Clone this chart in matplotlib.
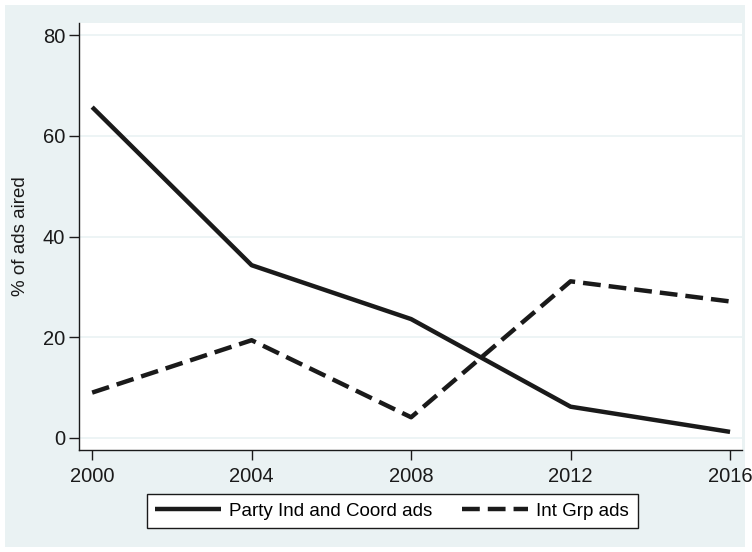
import matplotlib
matplotlib.use("Agg")
import matplotlib.pyplot as plt
from matplotlib.patches import Rectangle

# data
years = [2000, 2004, 2008, 2012, 2016]
party = [65.7, 34.3, 23.6, 6.2, 1.2]
intgrp = [9.0, 19.4, 4.1, 31.1, 27.1]
yticks = [0, 20, 40, 60, 80]

bg = "#eaf2f3"
plt.rcParams["font.family"] = ["Liberation Sans", "DejaVu Sans"]

fig = plt.figure(figsize=(7.52, 5.52), dpi=100)
fig.patch.set_facecolor("white")
fig.patches.append(Rectangle((5 / 752, 5 / 552), 740 / 752, 542 / 552,
                             transform=fig.transFigure, facecolor=bg,
                             edgecolor="none", zorder=-10))

ax = fig.add_axes([79 / 752, 1 - 450 / 552, 663 / 752, 427 / 552])
ax.set_facecolor("white")

ax.plot(years, party, color="#1a1a1a", lw=3.2, solid_capstyle="butt",
        label="Party Ind and Coord ads")
ax.plot(years, intgrp, color="#1a1a1a", lw=3.2, dashes=(4, 1.8),
        dash_capstyle="butt", label="Int Grp ads")

ax.set_xlim(1999.67, 2016.3)
ax.set_ylim(-2.4, 82.4)
ax.set_xticks(years)
ax.set_yticks(yticks)
for y in yticks:
    ax.axhline(y, color=bg, lw=1.2, zorder=0)

for s in ["top", "right"]:
    ax.spines[s].set_visible(False)
for s in ["left", "bottom"]:
    ax.spines[s].set_color("#1a1a1a")
    ax.spines[s].set_linewidth(1.0)

ax.tick_params(axis="both", direction="out", length=7, width=1,
               color="#1a1a1a", labelsize=14.5, labelcolor="#1a1a1a", pad=3)
ax.tick_params(axis="x", pad=5)
ax.set_ylabel("% of ads aired", fontsize=13.5, color="#1a1a1a", labelpad=10)

leg = fig.legend(loc="center", bbox_to_anchor=(392 / 752, 1 - 511 / 552),
                 ncol=2, fontsize=13.5, frameon=True, fancybox=False,
                 edgecolor="#1a1a1a", handlelength=3.5, handletextpad=0.45,
                 columnspacing=1.6, borderpad=0.45)
leg.get_frame().set_linewidth(1.0)
leg.get_frame().set_facecolor("white")
leg.get_frame().set_alpha(1)

fig.savefig("out.png", dpi=100, facecolor=fig.get_facecolor())
